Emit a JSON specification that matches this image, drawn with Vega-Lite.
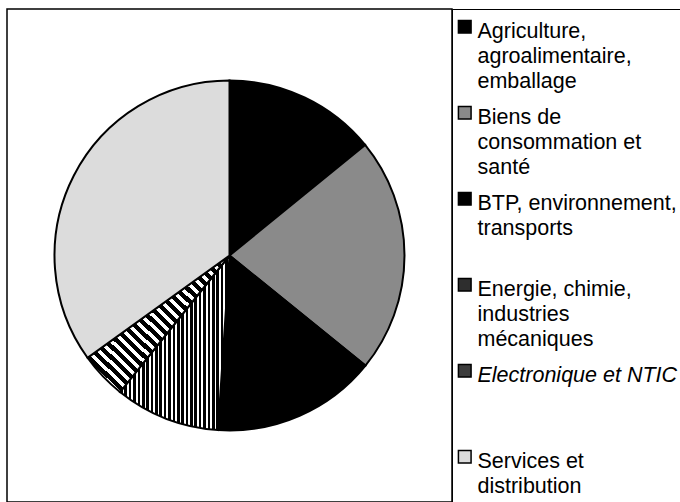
{
  "$schema": "https://vega.github.io/schema/vega-lite/v6.json",
  "width": 445,
  "height": 493,
  "autosize": {"type": "none"},
  "padding": {"left": 7, "top": 9, "right": 228, "bottom": 0},
  "background": "white",
  "data": {
    "values": [
      {"secteur": "Agriculture, agroalimentaire, emballage", "part": 14.1, "rang": 1},
      {"secteur": "Biens de consommation et santé", "part": 21.7, "rang": 2},
      {"secteur": "BTP, environnement, transports", "part": 15.2, "rang": 3},
      {"secteur": "Energie, chimie, industries mécaniques", "part": 9.7, "rang": 4},
      {"secteur": "Electronique et NTIC", "part": 4.3, "rang": 5},
      {"secteur": "Services et distribution", "part": 34.9, "rang": 6}
    ]
  },
  "layer": [
    {
      "data": {"values": [{"cadre": 1}]},
      "mark": {"type": "rect", "filled": false, "stroke": "black", "strokeWidth": 1.5, "y2Offset": 6},
      "encoding": {}
    },
    {
      "mark": {"type": "arc", "radius": 175, "stroke": "black", "strokeWidth": 2},
      "encoding": {
        "theta": {"field": "part", "type": "quantitative", "stack": true},
        "order": {"field": "rang", "type": "quantitative"},
        "fill": {
          "field": "secteur",
          "type": "nominal",
          "condition": [
            {"test": "datum.secteur == 'Energie, chimie, industries mécaniques'", "value": {"gradient": "linear", "x1": 0, "y1": 0, "x2": 1, "y2": 0, "stops": [
                {"offset": 0, "color": "black"}, {"offset": 0.024, "color": "black"}, {"offset": 0.024, "color": "white"}, {"offset": 0.04, "color": "white"},
                {"offset": 0.04, "color": "black"}, {"offset": 0.064, "color": "black"}, {"offset": 0.064, "color": "white"}, {"offset": 0.08, "color": "white"},
                {"offset": 0.08, "color": "black"}, {"offset": 0.104, "color": "black"}, {"offset": 0.104, "color": "white"}, {"offset": 0.12, "color": "white"},
                {"offset": 0.12, "color": "black"}, {"offset": 0.144, "color": "black"}, {"offset": 0.144, "color": "white"}, {"offset": 0.16, "color": "white"},
                {"offset": 0.16, "color": "black"}, {"offset": 0.184, "color": "black"}, {"offset": 0.184, "color": "white"}, {"offset": 0.2, "color": "white"},
                {"offset": 0.2, "color": "black"}, {"offset": 0.224, "color": "black"}, {"offset": 0.224, "color": "white"}, {"offset": 0.24, "color": "white"},
                {"offset": 0.24, "color": "black"}, {"offset": 0.264, "color": "black"}, {"offset": 0.264, "color": "white"}, {"offset": 0.28, "color": "white"},
                {"offset": 0.28, "color": "black"}, {"offset": 0.304, "color": "black"}, {"offset": 0.304, "color": "white"}, {"offset": 0.32, "color": "white"},
                {"offset": 0.32, "color": "black"}, {"offset": 0.344, "color": "black"}, {"offset": 0.344, "color": "white"}, {"offset": 0.36, "color": "white"},
                {"offset": 0.36, "color": "black"}, {"offset": 0.384, "color": "black"}, {"offset": 0.384, "color": "white"}, {"offset": 0.4, "color": "white"},
                {"offset": 0.4, "color": "black"}, {"offset": 0.424, "color": "black"}, {"offset": 0.424, "color": "white"}, {"offset": 0.44, "color": "white"},
                {"offset": 0.44, "color": "black"}, {"offset": 0.464, "color": "black"}, {"offset": 0.464, "color": "white"}, {"offset": 0.48, "color": "white"},
                {"offset": 0.48, "color": "black"}, {"offset": 0.504, "color": "black"}, {"offset": 0.504, "color": "white"}, {"offset": 0.52, "color": "white"},
                {"offset": 0.52, "color": "black"}, {"offset": 0.544, "color": "black"}, {"offset": 0.544, "color": "white"}, {"offset": 0.56, "color": "white"},
                {"offset": 0.56, "color": "black"}, {"offset": 0.584, "color": "black"}, {"offset": 0.584, "color": "white"}, {"offset": 0.6, "color": "white"},
                {"offset": 0.6, "color": "black"}, {"offset": 0.624, "color": "black"}, {"offset": 0.624, "color": "white"}, {"offset": 0.64, "color": "white"},
                {"offset": 0.64, "color": "black"}, {"offset": 0.664, "color": "black"}, {"offset": 0.664, "color": "white"}, {"offset": 0.68, "color": "white"},
                {"offset": 0.68, "color": "black"}, {"offset": 0.704, "color": "black"}, {"offset": 0.704, "color": "white"}, {"offset": 0.72, "color": "white"},
                {"offset": 0.72, "color": "black"}, {"offset": 0.744, "color": "black"}, {"offset": 0.744, "color": "white"}, {"offset": 0.76, "color": "white"},
                {"offset": 0.76, "color": "black"}, {"offset": 0.784, "color": "black"}, {"offset": 0.784, "color": "white"}, {"offset": 0.8, "color": "white"},
                {"offset": 0.8, "color": "black"}, {"offset": 0.824, "color": "black"}, {"offset": 0.824, "color": "white"}, {"offset": 0.84, "color": "white"},
                {"offset": 0.84, "color": "black"}, {"offset": 0.864, "color": "black"}, {"offset": 0.864, "color": "white"}, {"offset": 0.88, "color": "white"},
                {"offset": 0.88, "color": "black"}, {"offset": 0.904, "color": "black"}, {"offset": 0.904, "color": "white"}, {"offset": 0.92, "color": "white"},
                {"offset": 0.92, "color": "black"}, {"offset": 0.944, "color": "black"}, {"offset": 0.944, "color": "white"}, {"offset": 0.96, "color": "white"},
                {"offset": 0.96, "color": "black"}, {"offset": 0.984, "color": "black"}, {"offset": 0.984, "color": "white"}, {"offset": 1, "color": "white"}
              ]}},
            {"test": "datum.secteur == 'Electronique et NTIC'", "value": {"gradient": "linear", "x1": 0, "y1": 1, "x2": 1, "y2": 0, "stops": [
                {"offset": 0, "color": "black"}, {"offset": 0.022, "color": "black"}, {"offset": 0.022, "color": "white"}, {"offset": 0.04, "color": "white"},
                {"offset": 0.04, "color": "black"}, {"offset": 0.062, "color": "black"}, {"offset": 0.062, "color": "white"}, {"offset": 0.08, "color": "white"},
                {"offset": 0.08, "color": "black"}, {"offset": 0.102, "color": "black"}, {"offset": 0.102, "color": "white"}, {"offset": 0.12, "color": "white"},
                {"offset": 0.12, "color": "black"}, {"offset": 0.142, "color": "black"}, {"offset": 0.142, "color": "white"}, {"offset": 0.16, "color": "white"},
                {"offset": 0.16, "color": "black"}, {"offset": 0.182, "color": "black"}, {"offset": 0.182, "color": "white"}, {"offset": 0.2, "color": "white"},
                {"offset": 0.2, "color": "black"}, {"offset": 0.222, "color": "black"}, {"offset": 0.222, "color": "white"}, {"offset": 0.24, "color": "white"},
                {"offset": 0.24, "color": "black"}, {"offset": 0.262, "color": "black"}, {"offset": 0.262, "color": "white"}, {"offset": 0.28, "color": "white"},
                {"offset": 0.28, "color": "black"}, {"offset": 0.302, "color": "black"}, {"offset": 0.302, "color": "white"}, {"offset": 0.32, "color": "white"},
                {"offset": 0.32, "color": "black"}, {"offset": 0.342, "color": "black"}, {"offset": 0.342, "color": "white"}, {"offset": 0.36, "color": "white"},
                {"offset": 0.36, "color": "black"}, {"offset": 0.382, "color": "black"}, {"offset": 0.382, "color": "white"}, {"offset": 0.4, "color": "white"},
                {"offset": 0.4, "color": "black"}, {"offset": 0.422, "color": "black"}, {"offset": 0.422, "color": "white"}, {"offset": 0.44, "color": "white"},
                {"offset": 0.44, "color": "black"}, {"offset": 0.462, "color": "black"}, {"offset": 0.462, "color": "white"}, {"offset": 0.48, "color": "white"},
                {"offset": 0.48, "color": "black"}, {"offset": 0.502, "color": "black"}, {"offset": 0.502, "color": "white"}, {"offset": 0.52, "color": "white"},
                {"offset": 0.52, "color": "black"}, {"offset": 0.542, "color": "black"}, {"offset": 0.542, "color": "white"}, {"offset": 0.56, "color": "white"},
                {"offset": 0.56, "color": "black"}, {"offset": 0.582, "color": "black"}, {"offset": 0.582, "color": "white"}, {"offset": 0.6, "color": "white"},
                {"offset": 0.6, "color": "black"}, {"offset": 0.622, "color": "black"}, {"offset": 0.622, "color": "white"}, {"offset": 0.64, "color": "white"},
                {"offset": 0.64, "color": "black"}, {"offset": 0.662, "color": "black"}, {"offset": 0.662, "color": "white"}, {"offset": 0.68, "color": "white"},
                {"offset": 0.68, "color": "black"}, {"offset": 0.702, "color": "black"}, {"offset": 0.702, "color": "white"}, {"offset": 0.72, "color": "white"},
                {"offset": 0.72, "color": "black"}, {"offset": 0.742, "color": "black"}, {"offset": 0.742, "color": "white"}, {"offset": 0.76, "color": "white"},
                {"offset": 0.76, "color": "black"}, {"offset": 0.782, "color": "black"}, {"offset": 0.782, "color": "white"}, {"offset": 0.8, "color": "white"},
                {"offset": 0.8, "color": "black"}, {"offset": 0.822, "color": "black"}, {"offset": 0.822, "color": "white"}, {"offset": 0.84, "color": "white"},
                {"offset": 0.84, "color": "black"}, {"offset": 0.862, "color": "black"}, {"offset": 0.862, "color": "white"}, {"offset": 0.88, "color": "white"},
                {"offset": 0.88, "color": "black"}, {"offset": 0.902, "color": "black"}, {"offset": 0.902, "color": "white"}, {"offset": 0.92, "color": "white"},
                {"offset": 0.92, "color": "black"}, {"offset": 0.942, "color": "black"}, {"offset": 0.942, "color": "white"}, {"offset": 0.96, "color": "white"},
                {"offset": 0.96, "color": "black"}, {"offset": 0.982, "color": "black"}, {"offset": 0.982, "color": "white"}, {"offset": 1, "color": "white"}
              ]}}
          ],
          "scale": {
            "domain": [
              "Agriculture, agroalimentaire, emballage",
              "Biens de consommation et santé",
              "BTP, environnement, transports",
              "Energie, chimie, industries mécaniques",
              "Electronique et NTIC",
              "Services et distribution"
            ],
            "range": ["#000000", "#8a8a8a", "#000000", "#2e2e2e", "#3c3c3c", "#dcdcdc"]
          },
          "legend": {
            "orient": "right",
            "offset": 0,
            "title": " ",
            "titleFontSize": 1,
            "titlePadding": 4,
            "padding": 2,
            "strokeColor": "black",
            "gridAlign": "all",
            "rowPadding": 9,
            "symbolType": "square",
            "symbolSize": 160,
            "symbolStrokeColor": "black",
            "symbolStrokeWidth": 1.5,
            "labelFont": "Liberation Sans",
            "labelFontSize": 21.5,
            "labelColor": "black",
            "labelOffset": 2,
            "labelLimit": 400,
            "labelBaseline": "alphabetic",
            "labelExpr": "datum.label == 'Agriculture, agroalimentaire, emballage' ? ['Agriculture,', 'agroalimentaire,', 'emballage'] : datum.label == 'Biens de consommation et santé' ? ['Biens de', 'consommation et', 'santé'] : datum.label == 'BTP, environnement, transports' ? ['BTP, environnement,', 'transports'] : datum.label == 'Energie, chimie, industries mécaniques' ? ['Energie, chimie,', 'industries', 'mécaniques'] : datum.label == 'Services et distribution' ? ['Services et', 'distribution', ' '] : datum.label",
            "encode": {
              "labels": {
                "update": {
                  "dy": {"value": 11},
                  "lineHeight": {"value": 25},
                  "fontStyle": {"signal": "datum.label == 'Electronique et NTIC' ? 'italic' : 'normal'"}
                }
              }
            }
          }
        }
      }
    }
  ]
}
